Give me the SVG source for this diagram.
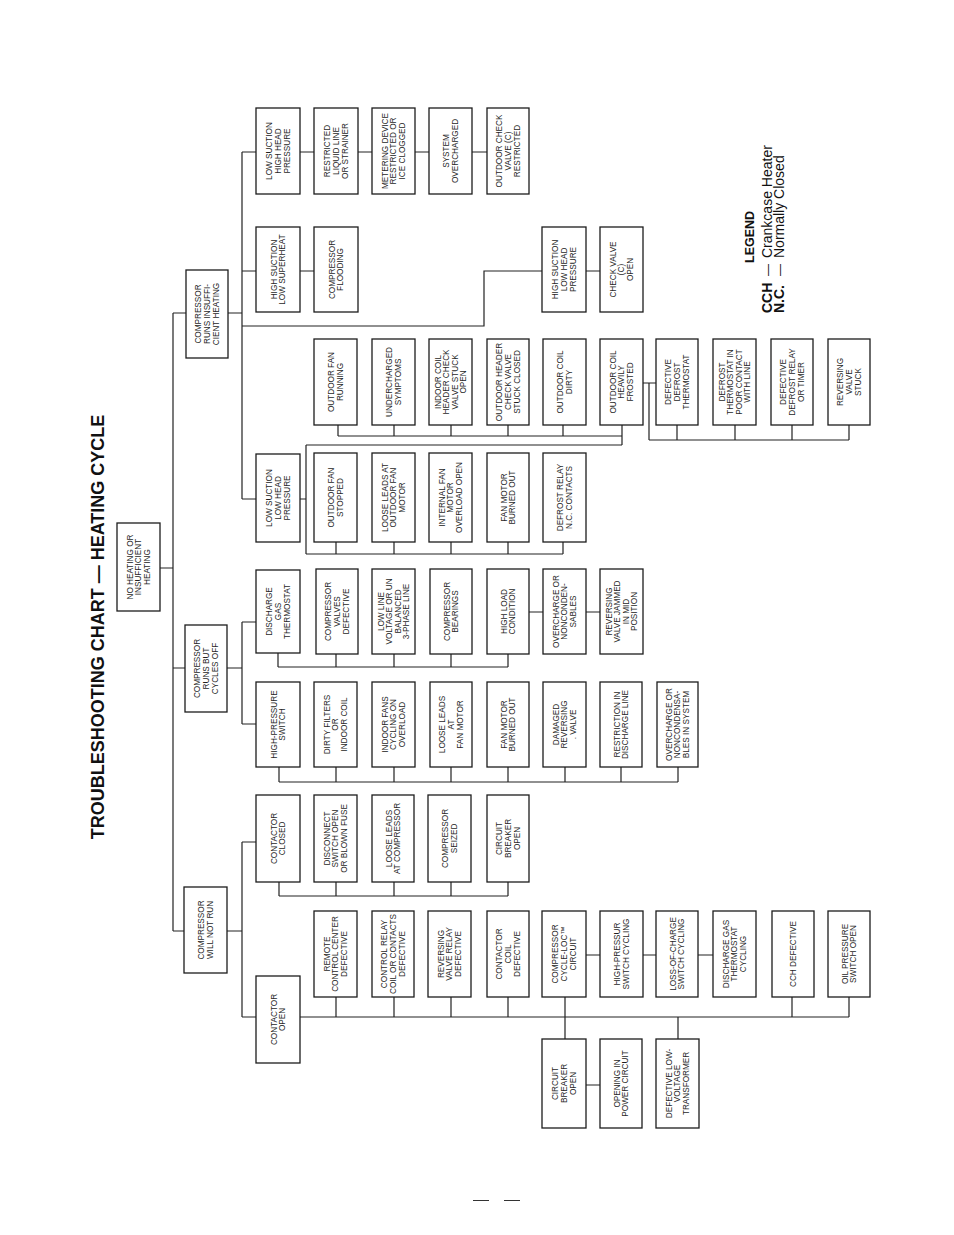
<svg xmlns="http://www.w3.org/2000/svg" width="954" height="1235" viewBox="0 0 954 1235">
<style>
.bx{fill:#fff;stroke:#1c1c1c;stroke-width:1.3}
.t{font-family:"Liberation Sans",Arial,sans-serif;font-size:8.2px;fill:#1f1f1f;text-anchor:middle}
.ln{fill:none;stroke:#222;stroke-width:1.2}
.title{font-family:"Liberation Sans",Arial,sans-serif;font-size:18px;font-weight:bold;fill:#111;text-anchor:middle}
.lg{font-family:"Liberation Sans",Arial,sans-serif;fill:#111}
</style>
<rect width="954" height="1235" fill="#fff"/>
<text class="title" transform="translate(104,627) rotate(-90)">TROUBLESHOOTING CHART — HEATING CYCLE</text>

<g id="connectors" class="ln">
<path d="M173 313V931M160 568H173M173 313H186M228 313H242M173 668H185M227 668H242M173 931H184M227 931H242"/>
<path d="M242 152V499M242 152H256M242 271H256M242 499H256M242 326H484V271H542"/>
<path d="M299 152H314M358 152H372M415 152H429M472 152H487M300 271H314M586 271H600"/>
<path d="M300 499H306M306 445V554M306 445H622M306 554H563"/>
<path d="M338 425V436M394 425V436M451 425V436M508 425V436M563 425V436M338 436H622M622 425V445"/>
<path d="M643 383H656M649 383V440M649 440H849M677 425V440M735 425V440M792 425V440M849 425V440"/>
<path d="M336 542V554M394 542V554M451 542V554M508 542V554M563 542V554"/>
<path d="M242 622V724M242 622H256M242 724H256"/>
<path d="M278 653V667M278 667H508M336 654V667M394 654V667M451 654V667M508 654V667M529 612H543M586 612H600"/>
<path d="M279 767V782M279 782H678M336 767V782M394 767V782M451 767V782M508 767V782M565 767V782M621 767V782M678 767V782"/>
<path d="M242 842V1017M242 842H256M242 1017H256"/>
<path d="M279 882V896M279 896H508M336 882V896M394 882V896M451 882V896M508 882V896"/>
<path d="M300 1017H849M336 997V1017M394 997V1017M451 997V1017M508 997V1017M565 997V1039M678 1017V1039M792 997V1017M849 997V1017M586 955H600M643 955H656M698 955H713M586 1085H600"/>
</g>

<g id="n_root"><rect class="bx" x="117" y="523" width="43" height="88"/><text class="t" transform="translate(138.5,567) rotate(-90)"><tspan x="0" y="-5.7">NO HEATING OR</tspan><tspan x="0" y="2.9">INSUFFICIENT</tspan><tspan x="0" y="11.5">HEATING</tspan></text></g>
<g id="n_c1"><rect class="bx" x="184" y="887" width="43" height="86"/><text class="t" transform="translate(205.5,930) rotate(-90)"><tspan x="0" y="-1.4">COMPRESSOR</tspan><tspan x="0" y="7.2">WILL NOT RUN</tspan></text></g>
<g id="n_c2"><rect class="bx" x="185" y="625" width="42" height="87"/><text class="t" transform="translate(206,668.5) rotate(-90)"><tspan x="0" y="-5.7">COMPRESSOR</tspan><tspan x="0" y="2.9">RUNS BUT</tspan><tspan x="0" y="11.5">CYCLES OFF</tspan></text></g>
<g id="n_c3"><rect class="bx" x="186" y="270" width="42" height="88"/><text class="t" transform="translate(207,314) rotate(-90)"><tspan x="0" y="-5.7">COMPRESSOR</tspan><tspan x="0" y="2.9">RUNS INSUFFI-</tspan><tspan x="0" y="11.5">CIENT HEATING</tspan></text></g>

<g id="n_lshh"><rect class="bx" x="256" y="108" width="44" height="86"/><text class="t" transform="translate(278,151) rotate(-90)"><tspan x="0" y="-5.7">LOW SUCTION</tspan><tspan x="0" y="2.9">HIGH HEAD</tspan><tspan x="0" y="11.5">PRESSURE</tspan></text></g>
<g id="n_hslsh"><rect class="bx" x="256" y="227" width="44" height="85"/><text class="t" transform="translate(278,269.5) rotate(-90)"><tspan x="0" y="-1.4">HIGH SUCTION</tspan><tspan x="0" y="7.2">LOW SUPERHEAT</tspan></text></g>
<g id="n_lslh"><rect class="bx" x="256" y="454" width="44" height="88"/><text class="t" transform="translate(278,498) rotate(-90)"><tspan x="0" y="-5.7">LOW SUCTION</tspan><tspan x="0" y="2.9">LOW HEAD</tspan><tspan x="0" y="11.5">PRESSURE</tspan></text></g>
<g id="n_dgt"><rect class="bx" x="256" y="570" width="44" height="83"/><text class="t" transform="translate(278,611.5) rotate(-90)"><tspan x="0" y="-5.7">DISCHARGE</tspan><tspan x="0" y="2.9">GAS</tspan><tspan x="0" y="11.5">THERMOSTAT</tspan></text></g>
<g id="n_hps"><rect class="bx" x="256" y="682" width="44" height="85"/><text class="t" transform="translate(278,724.5) rotate(-90)"><tspan x="0" y="-1.4">HIGH-PRESSURE</tspan><tspan x="0" y="7.2">SWITCH</tspan></text></g>
<g id="n_cc"><rect class="bx" x="256" y="795" width="44" height="87"/><text class="t" transform="translate(278,838.5) rotate(-90)"><tspan x="0" y="-1.4">CONTACTOR</tspan><tspan x="0" y="7.2">CLOSED</tspan></text></g>
<g id="n_co"><rect class="bx" x="256" y="976" width="44" height="87"/><text class="t" transform="translate(278,1019.5) rotate(-90)"><tspan x="0" y="-1.4">CONTACTOR</tspan><tspan x="0" y="7.2">OPEN</tspan></text></g>

<g id="n_r1a"><rect class="bx" x="314" y="108" width="44" height="86"/><text class="t" transform="translate(336,151) rotate(-90)"><tspan x="0" y="-5.7">RESTRICTED</tspan><tspan x="0" y="2.9">LIQUID LINE</tspan><tspan x="0" y="11.5">OR STRAINER</tspan></text></g>
<g id="n_r1b"><rect class="bx" x="372" y="108" width="43" height="86"/><text class="t" transform="translate(393.5,151) rotate(-90)"><tspan x="0" y="-5.7">METERING DEVICE</tspan><tspan x="0" y="2.9">RESTRICTED OR</tspan><tspan x="0" y="11.5">ICE CLOGGED</tspan></text></g>
<g id="n_r1c"><rect class="bx" x="429" y="108" width="43" height="86"/><text class="t" transform="translate(450.5,151) rotate(-90)"><tspan x="0" y="-1.4">SYSTEM</tspan><tspan x="0" y="7.2">OVERCHARGED</tspan></text></g>
<g id="n_r1d"><rect class="bx" x="487" y="108" width="42" height="86"/><text class="t" transform="translate(508,151) rotate(-90)"><tspan x="0" y="-5.7">OUTDOOR CHECK</tspan><tspan x="0" y="2.9">VALVE (C)</tspan><tspan x="0" y="11.5">RESTRICTED</tspan></text></g>

<g id="n_r2a"><rect class="bx" x="314" y="227" width="44" height="85"/><text class="t" transform="translate(336,269.5) rotate(-90)"><tspan x="0" y="-1.4">COMPRESSOR</tspan><tspan x="0" y="7.2">FLOODING</tspan></text></g>
<g id="n_r2e"><rect class="bx" x="542" y="227" width="44" height="85"/><text class="t" transform="translate(564,269.5) rotate(-90)"><tspan x="0" y="-5.7">HIGH SUCTION</tspan><tspan x="0" y="2.9">LOW HEAD</tspan><tspan x="0" y="11.5">PRESSURE</tspan></text></g>
<g id="n_r2f"><rect class="bx" x="600" y="227" width="43" height="85"/><text class="t" transform="translate(621.5,269.5) rotate(-90)"><tspan x="0" y="-5.7">CHECK VALVE</tspan><tspan x="0" y="2.9">(C)</tspan><tspan x="0" y="11.5">OPEN</tspan></text></g>

<g id="n_r3a"><rect class="bx" x="314" y="339" width="43" height="86"/><text class="t" transform="translate(335.5,382) rotate(-90)"><tspan x="0" y="-1.4">OUTDOOR FAN</tspan><tspan x="0" y="7.2">RUNNING</tspan></text></g>
<g id="n_r3b"><rect class="bx" x="372" y="339" width="43" height="86"/><text class="t" transform="translate(393.5,382) rotate(-90)"><tspan x="0" y="-1.4">UNDERCHARGED</tspan><tspan x="0" y="7.2">SYMPTOMS</tspan></text></g>
<g id="n_r3c"><rect class="bx" x="429" y="339" width="43" height="86"/><text class="t" transform="translate(450.5,382) rotate(-90)"><tspan x="0" y="-10">INDOOR COIL</tspan><tspan x="0" y="-1.4">HEADER CHECK</tspan><tspan x="0" y="7.2">VALVE STUCK</tspan><tspan x="0" y="15.8">OPEN</tspan></text></g>
<g id="n_r3d"><rect class="bx" x="487" y="339" width="42" height="86"/><text class="t" transform="translate(508,382) rotate(-90)"><tspan x="0" y="-5.7">OUTDOOR HEADER</tspan><tspan x="0" y="2.9">CHECK VALVE</tspan><tspan x="0" y="11.5">STUCK CLOSED</tspan></text></g>
<g id="n_r3e"><rect class="bx" x="543" y="339" width="43" height="86"/><text class="t" transform="translate(564.5,382) rotate(-90)"><tspan x="0" y="-1.4">OUTDOOR COIL</tspan><tspan x="0" y="7.2">DIRTY</tspan></text></g>
<g id="n_r3f"><rect class="bx" x="600" y="339" width="43" height="86"/><text class="t" transform="translate(621.5,382) rotate(-90)"><tspan x="0" y="-5.7">OUTDOOR COIL</tspan><tspan x="0" y="2.9">HEAVILY</tspan><tspan x="0" y="11.5">FROSTED</tspan></text></g>
<g id="n_r3g"><rect class="bx" x="656" y="339" width="42" height="86"/><text class="t" transform="translate(677,382) rotate(-90)"><tspan x="0" y="-5.7">DEFECTIVE</tspan><tspan x="0" y="2.9">DEFROST</tspan><tspan x="0" y="11.5">THERMOSTAT</tspan></text></g>
<g id="n_r3h"><rect class="bx" x="713" y="339" width="43" height="86"/><text class="t" transform="translate(734.5,382) rotate(-90)"><tspan x="0" y="-10">DEFROST</tspan><tspan x="0" y="-1.4">THERMOSTAT IN</tspan><tspan x="0" y="7.2">POOR CONTACT</tspan><tspan x="0" y="15.8">WITH LINE</tspan></text></g>
<g id="n_r3i"><rect class="bx" x="771" y="339" width="42" height="86"/><text class="t" transform="translate(792,382) rotate(-90)"><tspan x="0" y="-5.7">DEFECTIVE</tspan><tspan x="0" y="2.9">DEFROST RELAY</tspan><tspan x="0" y="11.5">OR TIMER</tspan></text></g>
<g id="n_r3j"><rect class="bx" x="828" y="339" width="42" height="86"/><text class="t" transform="translate(849,382) rotate(-90)"><tspan x="0" y="-5.7">REVERSING</tspan><tspan x="0" y="2.9">VALVE</tspan><tspan x="0" y="11.5">STUCK</tspan></text></g>

<g id="n_r4a"><rect class="bx" x="314" y="453" width="43" height="89"/><text class="t" transform="translate(335.5,497.5) rotate(-90)"><tspan x="0" y="-1.4">OUTDOOR FAN</tspan><tspan x="0" y="7.2">STOPPED</tspan></text></g>
<g id="n_r4b"><rect class="bx" x="372" y="453" width="43" height="89"/><text class="t" transform="translate(393.5,497.5) rotate(-90)"><tspan x="0" y="-5.7">LOOSE LEADS AT</tspan><tspan x="0" y="2.9">OUTDOOR FAN</tspan><tspan x="0" y="11.5">MOTOR</tspan></text></g>
<g id="n_r4c"><rect class="bx" x="429" y="453" width="43" height="89"/><text class="t" transform="translate(450.5,497.5) rotate(-90)"><tspan x="0" y="-5.7">INTERNAL FAN</tspan><tspan x="0" y="2.9">MOTOR</tspan><tspan x="0" y="11.5">OVERLOAD OPEN</tspan></text></g>
<g id="n_r4d"><rect class="bx" x="487" y="453" width="42" height="89"/><text class="t" transform="translate(508,497.5) rotate(-90)"><tspan x="0" y="-1.4">FAN MOTOR</tspan><tspan x="0" y="7.2">BURNED OUT</tspan></text></g>
<g id="n_r4e"><rect class="bx" x="543" y="453" width="43" height="89"/><text class="t" transform="translate(564.5,497.5) rotate(-90)"><tspan x="0" y="-1.4">DEFROST RELAY</tspan><tspan x="0" y="7.2">N.C. CONTACTS</tspan></text></g>

<g id="n_r5a"><rect class="bx" x="316" y="569" width="42" height="85"/><text class="t" transform="translate(337,611.5) rotate(-90)"><tspan x="0" y="-5.7">COMPRESSOR</tspan><tspan x="0" y="2.9">VALVES</tspan><tspan x="0" y="11.5">DEFECTIVE</tspan></text></g>
<g id="n_r5b"><rect class="bx" x="372" y="569" width="43" height="85"/><text class="t" transform="translate(393.5,611.5) rotate(-90)"><tspan x="0" y="-10">LOW LINE</tspan><tspan x="0" y="-1.4">VOLTAGE OR UN</tspan><tspan x="0" y="7.2">BALANCED</tspan><tspan x="0" y="15.8">3-PHASE LINE</tspan></text></g>
<g id="n_r5c"><rect class="bx" x="430" y="569" width="42" height="85"/><text class="t" transform="translate(451,611.5) rotate(-90)"><tspan x="0" y="-1.4">COMPRESSOR</tspan><tspan x="0" y="7.2">BEARINGS</tspan></text></g>
<g id="n_r5d"><rect class="bx" x="487" y="569" width="42" height="85"/><text class="t" transform="translate(508,611.5) rotate(-90)"><tspan x="0" y="-1.4">HIGH LOAD</tspan><tspan x="0" y="7.2">CONDITION</tspan></text></g>
<g id="n_r5e"><rect class="bx" x="543" y="569" width="43" height="85"/><text class="t" transform="translate(564.5,611.5) rotate(-90)"><tspan x="0" y="-5.7">OVERCHARGE OR</tspan><tspan x="0" y="2.9">NONCONDEN-</tspan><tspan x="0" y="11.5">SABLES</tspan></text></g>
<g id="n_r5f"><rect class="bx" x="600" y="569" width="43" height="85"/><text class="t" transform="translate(621.5,611.5) rotate(-90)"><tspan x="0" y="-10">REVERSING</tspan><tspan x="0" y="-1.4">VALVE JAMMED</tspan><tspan x="0" y="7.2">IN MID</tspan><tspan x="0" y="15.8">POSITION</tspan></text></g>

<g id="n_r6a"><rect class="bx" x="314" y="682" width="43" height="85"/><text class="t" transform="translate(335.5,724.5) rotate(-90)"><tspan x="0" y="-5.7">DIRTY FILTERS</tspan><tspan x="0" y="2.9">OR</tspan><tspan x="0" y="11.5">INDOOR COIL</tspan></text></g>
<g id="n_r6b"><rect class="bx" x="372" y="682" width="43" height="85"/><text class="t" transform="translate(393.5,724.5) rotate(-90)"><tspan x="0" y="-5.7">INDOOR FANS</tspan><tspan x="0" y="2.9">CYCLING ON</tspan><tspan x="0" y="11.5">OVERLOAD</tspan></text></g>
<g id="n_r6c"><rect class="bx" x="430" y="682" width="42" height="85"/><text class="t" transform="translate(451,724.5) rotate(-90)"><tspan x="0" y="-5.7">LOOSE LEADS</tspan><tspan x="0" y="2.9">AT</tspan><tspan x="0" y="11.5">FAN MOTOR</tspan></text></g>
<g id="n_r6d"><rect class="bx" x="487" y="682" width="42" height="85"/><text class="t" transform="translate(508,724.5) rotate(-90)"><tspan x="0" y="-1.4">FAN MOTOR</tspan><tspan x="0" y="7.2">BURNED OUT</tspan></text></g>
<g id="n_r6e"><rect class="bx" x="543" y="682" width="43" height="85"/><text class="t" transform="translate(564.5,724.5) rotate(-90)"><tspan x="0" y="-5.7">DAMAGED</tspan><tspan x="0" y="2.9">REVERSING</tspan><tspan x="0" y="11.5">. VALVE</tspan></text></g>
<g id="n_r6f"><rect class="bx" x="600" y="682" width="42" height="85"/><text class="t" transform="translate(621,724.5) rotate(-90)"><tspan x="0" y="-1.4">RESTRICTION IN</tspan><tspan x="0" y="7.2">DISCHARGE LINE</tspan></text></g>
<g id="n_r6g"><rect class="bx" x="657" y="682" width="41" height="85"/><text class="t" transform="translate(677.5,724.5) rotate(-90)"><tspan x="0" y="-5.7">OVERCHARGE OR</tspan><tspan x="0" y="2.9">NONCONDENSA-</tspan><tspan x="0" y="11.5">BLES IN SYSTEM</tspan></text></g>

<g id="n_r7a"><rect class="bx" x="314" y="795" width="43" height="87"/><text class="t" transform="translate(335.5,838.5) rotate(-90)"><tspan x="0" y="-5.7">DISCONNECT</tspan><tspan x="0" y="2.9">SWITCH OPEN</tspan><tspan x="0" y="11.5">OR BLOWN FUSE</tspan></text></g>
<g id="n_r7b"><rect class="bx" x="372" y="795" width="42" height="87"/><text class="t" transform="translate(393,838.5) rotate(-90)"><tspan x="0" y="-1.4">LOOSE LEADS</tspan><tspan x="0" y="7.2">AT COMPRESSOR</tspan></text></g>
<g id="n_r7c"><rect class="bx" x="428" y="795" width="43" height="87"/><text class="t" transform="translate(449.5,838.5) rotate(-90)"><tspan x="0" y="-1.4">COMPRESSOR</tspan><tspan x="0" y="7.2">SEIZED</tspan></text></g>
<g id="n_r7d"><rect class="bx" x="487" y="795" width="42" height="87"/><text class="t" transform="translate(508,838.5) rotate(-90)"><tspan x="0" y="-5.7">CIRCUIT</tspan><tspan x="0" y="2.9">BREAKER</tspan><tspan x="0" y="11.5">OPEN</tspan></text></g>

<g id="n_r8a"><rect class="bx" x="314" y="911" width="43" height="86"/><text class="t" transform="translate(335.5,954) rotate(-90)"><tspan x="0" y="-5.7">REMOTE</tspan><tspan x="0" y="2.9">CONTROL CENTER</tspan><tspan x="0" y="11.5">DEFECTIVE</tspan></text></g>
<g id="n_r8b"><rect class="bx" x="372" y="911" width="42" height="86"/><text class="t" transform="translate(393,954) rotate(-90)"><tspan x="0" y="-5.7">CONTROL RELAY</tspan><tspan x="0" y="2.9">COIL OR CONTACTS</tspan><tspan x="0" y="11.5">DEFECTIVE</tspan></text></g>
<g id="n_r8c"><rect class="bx" x="428" y="911" width="43" height="86"/><text class="t" transform="translate(449.5,954) rotate(-90)"><tspan x="0" y="-5.7">REVERSING</tspan><tspan x="0" y="2.9">VALVE RELAY</tspan><tspan x="0" y="11.5">DEFECTIVE</tspan></text></g>
<g id="n_r8d"><rect class="bx" x="487" y="911" width="42" height="86"/><text class="t" transform="translate(508,954) rotate(-90)"><tspan x="0" y="-5.7">CONTACTOR</tspan><tspan x="0" y="2.9">COIL</tspan><tspan x="0" y="11.5">DEFECTIVE</tspan></text></g>
<g id="n_r8e"><rect class="bx" x="542" y="911" width="44" height="86"/><text class="t" transform="translate(564,954) rotate(-90)"><tspan x="0" y="-5.7">COMPRESSOR</tspan><tspan x="0" y="2.9">CYCLE-LOC™</tspan><tspan x="0" y="11.5">CIRCUIT</tspan></text></g>
<g id="n_r8f"><rect class="bx" x="600" y="911" width="43" height="86"/><text class="t" transform="translate(621.5,954) rotate(-90)"><tspan x="0" y="-1.4">HIGH-PRESSUR</tspan><tspan x="0" y="7.2">SWITCH CYCLING</tspan></text></g>
<g id="n_r8g"><rect class="bx" x="656" y="911" width="42" height="86"/><text class="t" transform="translate(677,954) rotate(-90)"><tspan x="0" y="-1.4">LOSS-OF-CHARGE</tspan><tspan x="0" y="7.2">SWITCH CYCLING</tspan></text></g>
<g id="n_r8h"><rect class="bx" x="713" y="911" width="43" height="86"/><text class="t" transform="translate(734.5,954) rotate(-90)"><tspan x="0" y="-5.7">DISCHARGE GAS</tspan><tspan x="0" y="2.9">THERMOSTAT</tspan><tspan x="0" y="11.5">CYCLING</tspan></text></g>
<g id="n_r8i"><rect class="bx" x="772" y="911" width="42" height="86"/><text class="t" transform="translate(793,954) rotate(-90)"><tspan x="0" y="2.9">CCH DEFECTIVE</tspan></text></g>
<g id="n_r8j"><rect class="bx" x="828" y="911" width="42" height="86"/><text class="t" transform="translate(849,954) rotate(-90)"><tspan x="0" y="-1.4">OIL PRESSURE</tspan><tspan x="0" y="7.2">SWITCH OPEN</tspan></text></g>

<g id="n_r9e"><rect class="bx" x="542" y="1039" width="44" height="89"/><text class="t" transform="translate(564,1083.5) rotate(-90)"><tspan x="0" y="-5.7">CIRCUIT</tspan><tspan x="0" y="2.9">BREAKER</tspan><tspan x="0" y="11.5">OPEN</tspan></text></g>
<g id="n_r9f"><rect class="bx" x="600" y="1039" width="42" height="89"/><text class="t" transform="translate(621,1083.5) rotate(-90)"><tspan x="0" y="-1.4">OPENING IN</tspan><tspan x="0" y="7.2">POWER CIRCUIT</tspan></text></g>
<g id="n_r9g"><rect class="bx" x="656" y="1039" width="43" height="89"/><text class="t" transform="translate(677.5,1083.5) rotate(-90)"><tspan x="0" y="-5.7">DEFECTIVE LOW-</tspan><tspan x="0" y="2.9">VOLTAGE</tspan><tspan x="0" y="11.5">TRANSFORMER</tspan></text></g>

<g id="legend">
<text class="lg" font-size="12.5" font-weight="bold" transform="translate(754,263) rotate(-90)">LEGEND</text>
<text class="lg" font-size="14" transform="translate(772,313) rotate(-90)"><tspan font-weight="bold">CCH</tspan><tspan x="37" font-size="12">—</tspan><tspan x="55">Crankcase Heater</tspan></text>
<text class="lg" font-size="14" transform="translate(784,313) rotate(-90)"><tspan font-weight="bold">N.C.</tspan><tspan x="37" font-size="12">—</tspan><tspan x="55">Normally Closed</tspan></text>
</g>
<path d="M473 1200.5H489M504 1200.5H520" stroke="#333" stroke-width="1.2"/>
</svg>
